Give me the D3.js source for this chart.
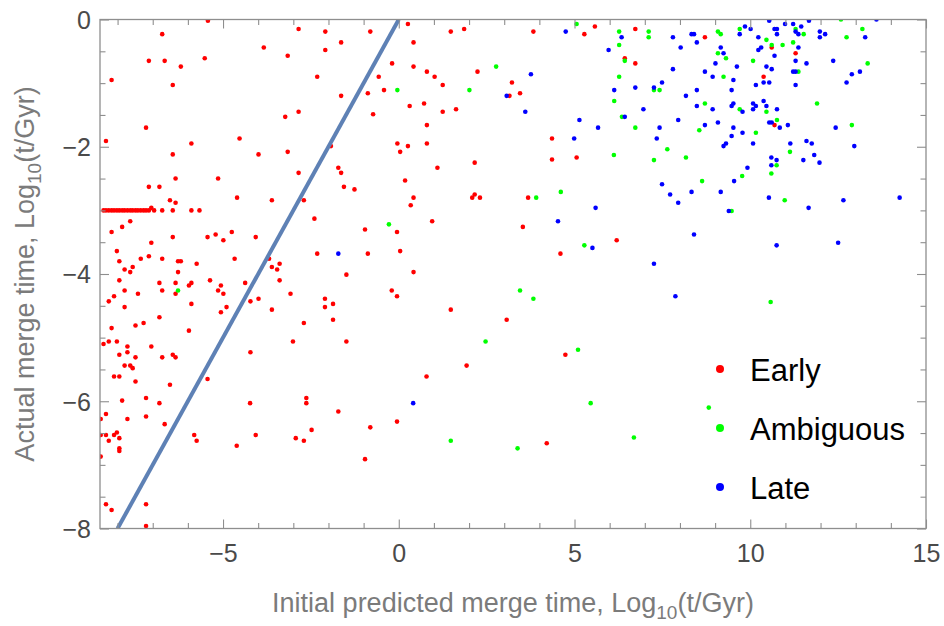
<!DOCTYPE html>
<html>
<head>
<meta charset="utf-8">
<script src="https://cdn.jsdelivr.net/npm/d3@7"></script>
<style>
  body { margin: 0; background: #fff; }
  svg { display: block; font-family: "Liberation Sans", Arial, Helvetica, sans-serif; }
</style>
</head>
<body>
<svg id="chart" width="944" height="626"></svg>
<script>
// Classes of mergers and their marker colours
const categories = ["Early", "Ambiguous", "Late"];
const categoryColors = ["#ff0000", "#00ff00", "#0000ff"];

// Frame tick values
const xTickLabels = [-5, 0, 5, 10, 15];
const yTickLabels = [0, -2, -4, -6, -8];

// Ends of the one-to-one reference line (actual = predicted)
const equalityLine = [-8, 0];

// Early mergers stacked at actual = -3 (predicted values)
const earlyRowX = [-8.40, -8.33, -8.25, -8.17, -8.10, -8.02, -7.95, -7.87, -7.80, -7.72, -7.64, -7.57,
  -7.49, -7.42, -7.34, -7.26, -7.19, -7.11, -6.96, -6.73, -6.43, -5.90, -5.67];

// [predicted, actual] pairs, Log10(t/Gyr)
const earlyPoints = [
  [-5.43,-0.02],[-6.73,-0.23],[-7.11,-0.65],[-6.66,-0.65],[-6.20,-0.74],[-5.52,-0.61],[-8.17,-0.95],[-6.43,-1.03],
  [-7.19,-1.70],[-8.33,-1.91],[-4.53,-1.87],[-5.90,-1.95],[-6.43,-2.12],[-6.35,-2.50],[-5.14,-2.50],
  [0.26,-0.07],[-2.85,-0.15],[-2.09,-0.19],[-0.81,-0.19],[-1.64,-0.36],[-3.84,-0.44],[-3.16,-0.57],[-2.09,-0.48],
  [-0.19,-0.69],[-2.32,-0.90],[-0.57,-0.90],[-0.42,-1.11],[-0.88,-1.16],[-1.64,-1.20],[0.31,-1.36],[-2.85,-1.45],
  [-3.23,-1.53],[-0.73,-1.49],[-0.04,-1.95],[0.26,-1.99],[0.04,-2.08],[-3.99,-2.12],[-3.16,-2.08],[-1.93,-1.99],
  [-1.72,-2.33],[-1.64,-2.41],[-2.85,-2.41],[0.18,-2.53],
  [1.48,-0.19],[1.86,-0.15],[3.83,-0.19],[0.42,-0.36],[0.42,-0.74],[0.80,-0.82],[1.02,-0.90],[1.25,-1.03],
  [2.24,-0.82],[3.22,-0.99],[3.45,-1.16],[3.15,-1.20],[0.72,-1.32],[1.25,-1.45],[1.63,-1.41],[0.80,-1.66],
  [0.80,-1.95],[4.36,-1.87],[4.36,-2.20],[2.16,-2.25],[1.10,-2.33],
  [5.58,-0.11],[5.28,-0.23],[6.73,-0.15],[8.71,-0.28],[6.43,-0.61],[6.73,-0.69],[10.61,-0.44],[11.29,-0.53],
  [10.38,-0.90],[10.69,-1.66],[5.06,-2.17],[6.20,-3.47],[4.60,-3.68],
  [-7.11,-2.63],[-6.81,-2.63],[-6.51,-2.84],[-6.35,-2.88],[-7.04,-2.96],[-7.64,-3.17],[-7.87,-3.26],[-8.17,-3.34],
  [-6.43,-3.42],[-5.44,-3.42],[-5.21,-3.38],[-4.99,-3.47],[-7.04,-3.51],[-8.02,-3.64],[-7.95,-3.80],[-7.34,-3.76],
  [-7.11,-3.72],[-6.73,-3.76],[-6.28,-3.80],[-6.20,-3.80],[-5.75,-3.84],[-7.57,-3.89],[-7.80,-3.93],[-7.64,-3.97],
  [-6.28,-3.97],[-7.95,-4.10],[-5.37,-4.10],[-6.81,-4.14],[-6.35,-4.14],[-5.90,-4.14],[-5.97,-4.18],[-5.06,-4.18],
  [-7.80,-4.26],[-7.42,-4.31],[-6.73,-4.26],[-6.35,-4.31],[-5.14,-4.26],[-4.99,-4.31],[-8.10,-4.35],[-8.25,-4.43],
  [-5.90,-4.47],[-7.80,-4.52],[-5.06,-4.60],[-6.81,-4.68],[-7.26,-4.77],[-7.49,-4.81],[-8.17,-4.85],[-5.97,-4.89],
  [-8.25,-5.06],[-8.02,-5.06],[-8.40,-5.10],[-7.72,-5.14],[-7.04,-5.14],[-7.72,-5.23],[-7.95,-5.27],[-7.49,-5.31],
  [-6.73,-5.31],[-6.43,-5.27],[-6.35,-5.31],
  [-7.80,-5.44],[-7.64,-5.44],[-7.57,-5.48],[-8.10,-5.61],[-7.95,-5.61],[-7.49,-5.69],[-6.51,-5.74],[-5.44,-5.65],
  [-7.19,-5.95],[-7.87,-5.99],[-6.81,-6.03],[-4.23,-6.03],[-8.33,-6.20],[-7.19,-6.24],[-7.72,-6.28],[-8.48,-6.28],
  [-6.66,-6.36],[-8.48,-6.53],[-8.33,-6.53],[-8.10,-6.53],[-8.02,-6.49],[-7.95,-6.58],[-8.25,-6.62],[-5.82,-6.53],
  [-5.75,-6.62],[-4.61,-6.70],[-7.95,-6.74],[-7.95,-6.78],[-8.48,-6.87],[-8.33,-7.62],[-8.17,-7.71],[-7.19,-7.62],
  [-7.19,-7.96],
  [-1.56,-2.63],[-1.26,-2.67],[-4.60,-2.80],[-3.61,-2.84],[-2.70,-2.84],[-2.40,-3.13],[-0.96,-3.30],[-0.05,-3.34],
  [-4.75,-3.34],[-4.07,-3.42],[-4.67,-3.76],[-2.32,-3.68],[-0.88,-3.68],[0.04,-3.64],[-3.69,-3.76],[-3.61,-3.89],
  [-3.39,-3.84],[-3.46,-3.93],[-1.49,-4.01],[-3.39,-4.10],[-4.37,-4.14],[-3.08,-4.31],[-4.22,-4.43],[-3.99,-4.39],
  [-4.90,-4.52],[-2.10,-4.39],[-1.87,-4.47],[-2.10,-4.52],[-3.61,-4.56],[-0.20,-4.26],[-0.05,-4.35],[-1.87,-4.72],
  [-2.70,-4.77],[-3.01,-5.06],[-1.49,-5.06],[-4.22,-5.23],
  [0.42,-2.80],[0.34,-2.92],[0.95,-3.17],[2.09,-2.80],[2.16,-2.75],[2.31,-2.80],[3.68,-2.80],[3.53,-3.26],
  [0.42,-3.97],[1.48,-4.56],[3.07,-4.72],[4.74,-5.27],
  [-4.07,-6.53],[-2.63,-5.95],[-2.63,-6.03],[-2.93,-6.58],[-2.70,-6.62],[-2.48,-6.45],[-1.72,-6.16],[-0.96,-6.91],
  [-0.81,-6.41],[-0.05,-6.32],[0.79,-5.61],[1.93,-5.44],[4.21,-6.66]
];

const ambiguousPoints = [
  [-0.04,-1.11],[2.77,-0.74],[2.01,-1.11],[5.06,-0.07],[6.27,-0.19],[7.11,-0.19],[7.11,-0.28],[9.08,-0.19],
  [9.16,-0.23],[6.27,-0.40],[9.08,-0.53],[9.31,-0.61],[6.43,-0.65],[9.24,-0.90],[6.27,-0.90],[7.26,-1.11],
  [7.42,-1.11],[6.13,-1.28],[8.71,-1.32],[6.35,-1.53],[6.73,-1.70],[8.55,-1.74],[7.64,-2.04],[9.70,-0.15],
  [11.29,-0.15],[11.52,-0.23],[12.74,-0.28],[13.19,-0.15],[10.46,-0.32],[10.61,-0.40],[10.92,-0.40],[11.22,-0.36],
  [10.08,-0.65],[13.34,-0.69],[11.37,-0.82],[9.70,-1.41],[10.46,-1.45],[11.90,-1.32],[10.76,-1.58],[12.89,-1.66],
  [10.16,-1.78],[12.58,0.00],[6.12,-2.13],[7.26,-2.21],[8.17,-2.17],[11.13,-2.08],[10.75,-2.29],[10.60,-2.42],
  [9.77,-2.46],[8.63,-2.54],[9.47,-3.01],[10.98,-2.84],[4.61,-2.71],[5.28,-3.55],[10.58,-4.44],[-6.28,-4.26],
  [-0.28,-3.22],[3.91,-2.80],[3.45,-4.26],[3.83,-4.39],[2.47,-5.06],[1.48,-6.62],[3.38,-6.74],[5.10,-5.19],
  [8.82,-6.10],[5.46,-6.03],[6.69,-6.57]
];

const latePoints = [
  [4.75,-0.19],[3.76,-0.86],[3.07,-1.20],[3.60,-1.45],[6.34,-0.28],[7.80,-0.28],[8.33,-0.23],[8.40,-0.23],
  [8.48,-0.36],[5.97,-0.48],[8.02,-0.44],[9.16,-0.44],[9.24,-0.53],[9.01,-0.69],[7.80,-0.78],[8.71,-0.82],
  [8.93,-0.90],[9.52,-0.95],[7.49,-0.99],[6.13,-1.11],[6.73,-1.07],[7.26,-1.07],[8.48,-1.11],[9.47,-1.11],
  [8.17,-1.20],[6.96,-1.41],[8.48,-1.36],[8.93,-1.41],[9.47,-1.36],[9.52,-1.32],[6.43,-1.53],[5.14,-1.58],
  [7.95,-1.58],[5.67,-1.70],[7.42,-1.70],[8.71,-1.66],[9.08,-1.62],[9.52,-1.70],[4.99,-1.87],[7.34,-1.87],
  [9.47,-1.83],[9.24,-1.99],[9.31,-1.95],
  [9.85,-0.11],[10.01,-0.15],[9.70,-0.23],[10.54,-0.02],[10.69,-0.15],[10.76,-0.15],[10.76,-0.23],[10.99,-0.07],
  [11.22,-0.07],[11.45,-0.11],[11.67,-0.02],[11.29,-0.19],[11.37,-0.23],[11.98,-0.19],[12.13,-0.23],[11.98,-0.28],
  [13.27,-0.28],[10.23,-0.28],[11.37,-0.44],[10.31,-0.44],[10.23,-0.48],[10.69,-0.57],[11.29,-0.65],[11.60,-0.69],
  [12.36,-0.65],[9.62,-0.74],[10.46,-0.74],[10.61,-0.78],[11.22,-0.82],[11.29,-0.82],[13.12,-0.82],[12.89,-0.86],
  [12.74,-0.99],[10.16,-1.03],[10.38,-0.99],[10.54,-0.99],[11.29,-1.03],[9.78,-1.45],[10.08,-1.32],[10.16,-1.36],
  [10.08,-1.41],[10.38,-1.28],[10.46,-1.36],[10.76,-1.41],[10.54,-1.62],[10.61,-1.62],[10.84,-1.70],[11.07,-1.66],
  [12.43,-1.70],[9.78,-1.78],[10.08,-1.95],[11.14,-1.95],[11.60,-1.91],[11.75,-1.95],[12.96,-1.99],[13.59,0.00],
  [10.60,-2.17],[10.75,-2.21],[10.60,-2.29],[11.51,-2.21],[11.82,-2.13],[11.97,-2.25],[9.92,-2.33],[9.54,-2.54],
  [7.49,-2.59],[7.72,-2.75],[7.95,-2.88],[8.33,-2.71],[9.16,-2.71],[9.39,-3.01],[10.53,-2.80],[11.66,-2.96],
  [12.65,-2.84],[14.25,-2.80],[5.60,-2.96],[4.53,-3.17],[5.51,-3.59],[8.40,-3.38],[10.75,-3.55],[12.50,-3.51],
  [7.26,-3.84],[7.87,-4.35],[-1.72,-3.68],[0.41,-6.03]
];

const series = [
  earlyRowX.map(v => [v, -3]).concat(earlyPoints),
  ambiguousPoints,
  latePoints
];

const svg = d3.select("#chart");
const W = 944, H = 626;
const margin = { top: 19.5, right: 18, bottom: 97.5, left: 100 };
const x = d3.scaleLinear().domain([-8.5, 15]).range([margin.left, W - margin.right]);
const y = d3.scaleLinear().domain([-8, 0]).range([H - margin.bottom, margin.top]);

const frameColor = "#8e8e8e";
const tickLabelColor = "#4a4a4a";
const titleColor = "#7b7b7b";

svg.append("clipPath").attr("id", "plot-clip")
  .append("rect")
  .attr("x", x.range()[0]).attr("y", y.range()[1])
  .attr("width", x.range()[1] - x.range()[0])
  .attr("height", y.range()[0] - y.range()[1]);

// Scatter points, one group per class
const pts = svg.append("g").attr("clip-path", "url(#plot-clip)");
series.forEach((data, i) => {
  pts.append("g")
    .selectAll("circle")
    .data(data)
    .join("circle")
    .attr("cx", d => x(d[0]))
    .attr("cy", d => y(d[1]))
    .attr("r", 2.3)
    .attr("fill", categoryColors[i]);
});

// One-to-one line
pts.append("path")
  .datum(equalityLine.map(v => [v, v]))
  .attr("d", d3.line().x(d => x(d[0])).y(d => y(d[1])))
  .attr("stroke", "#5e81b5")
  .attr("stroke-width", 4)
  .attr("fill", "none");

// Frame ticks (inward) on all four sides
const xMinor = d3.range(-8, 16, 1).filter(v => v % 5 !== 0);
const yMinor = d3.range(-8, 0.01, 0.5).filter(v => Math.abs(v % 2) > 1e-9);
const majorLen = 9, minorLen = 5.5;

function styleAxis(g) {
  g.select(".domain").remove();
  g.selectAll(".tick line").attr("stroke", frameColor).attr("stroke-width", 1.1);
}

const axes = [
  { gen: d3.axisBottom, scale: x, pos: `translate(0,${y.range()[0]})`, major: xTickLabels, minor: xMinor, labels: true },
  { gen: d3.axisTop, scale: x, pos: `translate(0,${y.range()[1]})`, major: xTickLabels, minor: xMinor, labels: false },
  { gen: d3.axisLeft, scale: y, pos: `translate(${x.range()[0]},0)`, major: yTickLabels, minor: yMinor, labels: true },
  { gen: d3.axisRight, scale: y, pos: `translate(${x.range()[1]},0)`, major: yTickLabels, minor: yMinor, labels: false }
];

axes.forEach(a => {
  svg.append("g").attr("transform", a.pos)
    .call(a.gen(a.scale).tickValues(a.minor).tickSize(-minorLen).tickFormat(""))
    .call(styleAxis);
  const g = svg.append("g").attr("transform", a.pos)
    .call(a.gen(a.scale).tickValues(a.major).tickSize(-majorLen)
      .tickFormat(a.labels ? d3.format("") : ""))
    .call(styleAxis);
  g.selectAll(".tick text")
    .attr("fill", tickLabelColor)
    .style("font-size", "25px")
    .style("font-family", "'Liberation Sans', Arial, sans-serif");
});

// Position tick labels
svg.selectAll("g").filter(function () {
  return this.getAttribute("transform") === `translate(0,${y.range()[0]})`;
}).selectAll(".tick text").attr("y", 33.5).attr("dy", null);
svg.selectAll("g").filter(function () {
  return this.getAttribute("transform") === `translate(${x.range()[0]},0)`;
}).selectAll(".tick text").attr("x", -9).attr("dy", "0.35em");

// Frame
svg.append("rect")
  .attr("x", x.range()[0]).attr("y", y.range()[1])
  .attr("width", x.range()[1] - x.range()[0])
  .attr("height", y.range()[0] - y.range()[1])
  .attr("fill", "none")
  .attr("stroke", frameColor)
  .attr("stroke-width", 1.3);

// Axis titles
function logTitle(sel, prefix) {
  sel.append("tspan").text(prefix + "Log");
  sel.append("tspan").text("10").attr("font-size", "19px").attr("dy", 7);
  sel.append("tspan").text("(t/Gyr)").attr("dy", -7);
}

svg.append("text")
  .attr("x", (x.range()[0] + x.range()[1]) / 2)
  .attr("y", 612)
  .attr("text-anchor", "middle")
  .attr("fill", titleColor)
  .style("font-size", "27px")
  .call(logTitle, "Initial predicted merge time, ");

svg.append("text")
  .attr("transform", `translate(34,${(y.range()[0] + y.range()[1]) / 2}) rotate(-90)`)
  .attr("text-anchor", "middle")
  .attr("fill", titleColor)
  .style("font-size", "27px")
  .call(logTitle, "Actual merge time, ");

// Legend
const legend = svg.append("g");
const legendY = [369, 428, 487];
categories.forEach((c, i) => {
  legend.append("circle").attr("cx", 720).attr("cy", legendY[i]).attr("r", 4).attr("fill", categoryColors[i]);
  legend.append("text").attr("x", 750).attr("y", legendY[i] + 11.5)
    .attr("fill", "#000").style("font-size", "31px").text(c);
});
</script>
</body>
</html>
